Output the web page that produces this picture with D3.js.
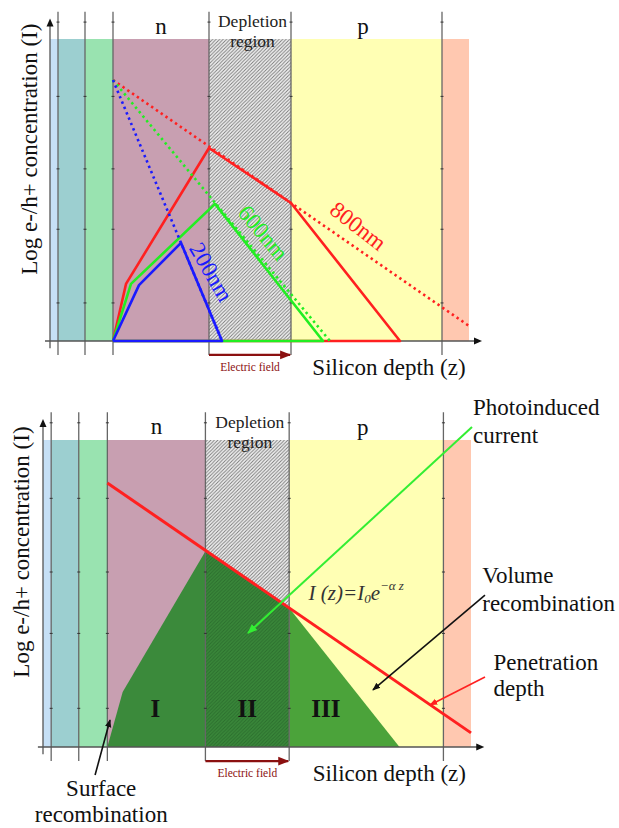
<!DOCTYPE html>
<html>
<head>
<meta charset="utf-8">
<script src="https://cdn.jsdelivr.net/npm/d3@7"></script>
<style>
  body { margin: 0; background: #fff; }
  svg text { font-family: "Liberation Serif", "DejaVu Serif", serif; }
</style>
</head>
<body>
<svg id="chart" width="619" height="828"></svg>
<script>
// layers along silicon depth (arbitrary depth units, 0 = surface of n layer)
const layers = [
  {name: "air",       z0: -63, z1: -55, fill: "#c6e0f6"},
  {name: "coating",   z0: -55, z1: -28, fill: "#9ccfd0"},
  {name: "window",    z0: -28, z1: 0,   fill: "#99e3b0"},
  {name: "n",         z0: 0,   z1: 96,  fill: "#c89fb1"},
  {name: "depletion", z0: 96,  z1: 178, fill: "url(#hatch)"},
  {name: "p",         z0: 178, z1: 329, fill: "#ffffb4"},
  {name: "substrate", z0: 329, z1: 356, fill: "#ffc8b0"}
];
const boundaries = [-55, -28, 0, 96, 178, 329];
const tickLevels = [12.6, 37, 57, 81, 105.6];
const bandTop = 100;

// top panel: log concentration profiles per wavelength
const profiles = [
  {label: "800nm", color: "#ff2020",
   dotted: [[0, 86.4], [356, 5]],
   solid: [[0, 0], [13, 18.9], [96, 63.9], [178, 45.7], [287, 0], [0, 0]],
   text: [245, 38, 38]},
  {label: "600nm", color: "#22ee22",
   dotted: [[0, 86.4], [217, 0]],
   solid: [[0, 0], [18, 18.9], [102, 45.4], [210, 0], [0, 0]],
   text: [150, 35.8, 50]},
  {label: "200nm", color: "#1a1aff",
   dotted: [[0, 86.4], [109, 0]],
   solid: [[0, 0], [26, 18.5], [68, 32.5], [109, 0], [0, 0]],
   text: [98, 22.8, 60]}
];

// bottom panel
const penetration = [[0, 86], [356, 4.6]];
const currentRegions = [
  {name: "I",   fill: "#3b8a3b", pts: [[0, 0], [15, 17.9], [96, 63.8], [96, 0]]},
  {name: "II",  fill: "url(#hatchGreen)", pts: [[96, 0], [96, 63.8], [178, 45.3], [178, 0]]},
  {name: "III", fill: "#4ba33a", pts: [[178, 0], [178, 45.3], [286, 0]]}
];
const regionLabels = [["I", 47], ["II", 137], ["III", 214]];
const arrows = [
  {color: "#33ee33", from: [357, 104.2], to: [137.7, 37.1]},
  {color: "#111",    from: [369.7, 49.5], to: [260, 18.6]},
  {color: "#ff2020", from: [369.7, 22.8], to: [315.9, 13.7]},
  {color: "#111",    from: [-12, -9.1], to: [2.6, 8.8]}
];
const notes = [
  {lines: ["Photoinduced", "current"], z: 358, I: [110.7, 101.6], anchor: "start"},
  {lines: ["Volume", "recombination"], z: 367, I: [55.8, 46.7], anchor: "start"},
  {lines: ["Penetration", "depth"], z: 378, I: [27.4, 19], anchor: "start"},
  {lines: ["Surface", "recombination"], z: -6, I: [-13.4, -22.1], anchor: "middle"}
];

const svg = d3.select("#chart");
const defs = svg.append("defs");
function hatch(id, bg, fg, w) {
  const p = defs.append("pattern").attr("id", id)
    .attr("patternUnits", "userSpaceOnUse").attr("width", 3.5).attr("height", 3.5);
  p.append("rect").attr("width", 3.5).attr("height", 3.5).attr("fill", bg);
  p.append("path").attr("d", "M-1,1 l2,-2 M0,3.5 l3.5,-3.5 M2.5,4.5 l2,-2")
    .attr("stroke", fg).attr("stroke-width", w);
}
hatch("hatch", "#f2f2f2", "#777", 0.9);
hatch("hatchGreen", "#3a883a", "#2b6e2d", 0.9);

["red", "black", "green", "field"].forEach(k => {
  const c = {red: "#ff2020", black: "#111", green: "#33ee33", field: "#8b1010"}[k];
  defs.append("marker").attr("id", "arrow-" + k)
    .attr("viewBox", "0 0 10 10").attr("refX", 9).attr("refY", 5)
    .attr("markerWidth", 5).attr("markerHeight", 5).attr("orient", "auto")
    .append("path").attr("d", "M0,1 L10,5 L0,9 z").attr("fill", c);
});

function panel(xRange, yRange, bottom) {
  const x = d3.scaleLinear().domain([-63, 356]).range(xRange);
  const y = d3.scaleLinear().domain([0, 100]).range(yRange);
  const g = svg.append("g");
  const line = d3.line().x(d => x(d[0])).y(d => y(d[1]));

  g.selectAll(".layer").data(layers).enter().append("rect")
    .attr("x", d => x(d.z0)).attr("width", d => x(d.z1) - x(d.z0))
    .attr("y", y(bandTop)).attr("height", y(0) - y(bandTop))
    .attr("fill", d => d.fill);

  if (bottom) {
    g.selectAll(".region").data(currentRegions).enter().append("path")
      .attr("d", d => line(d.pts) + "Z").attr("fill", d => d.fill);
  }

  // layer boundaries with small ticks
  g.selectAll(".bound").data(boundaries).enter().append("line")
    .attr("x1", d => x(d)).attr("x2", d => x(d))
    .attr("y1", y(109)).attr("y2", y(-4.6))
    .attr("stroke", "#666").attr("stroke-width", 1.3);
  boundaries.forEach(b => {
    g.selectAll(null).data(tickLevels).enter().append("line")
      .attr("x1", x(b) - 1.5).attr("x2", x(b) + 1.5)
      .attr("y1", d => y(d)).attr("y2", d => y(d))
      .attr("stroke", "#333").attr("stroke-width", 1);
  });

  // axes
  g.append("line").attr("x1", x(-63)).attr("x2", x(-63))
    .attr("y1", y(-2.4)).attr("y2", y(105.5))
    .attr("stroke", "#555").attr("stroke-width", 1.3);
  g.append("path")
    .attr("d", `M${x(-63)},${y(106.8)} l-3.5,8 l7,0 z`).attr("fill", "#111");
  g.append("line").attr("x1", x(-68)).attr("x2", x(362))
    .attr("y1", y(0)).attr("y2", y(0))
    .attr("stroke", "#555").attr("stroke-width", 1.3);
  g.append("path")
    .attr("d", `M${x(369)},${y(0)} l-8,-3.5 l0,7 z`).attr("fill", "#111");

  if (!bottom) {
    profiles.forEach(p => {
      g.append("path").attr("d", line(p.dotted)).attr("fill", "none")
        .attr("stroke", p.color).attr("stroke-width", 2.6)
        .attr("stroke-dasharray", "2.4,3.4");
      g.append("path").attr("d", line(p.solid)).attr("fill", "none")
        .attr("stroke", p.color).attr("stroke-width", 2.6)
        .attr("stroke-linejoin", "round");
    });
    profiles.forEach(p => {
      g.append("text").text(p.label)
        .attr("transform", `translate(${x(p.text[0])},${y(p.text[1])}) rotate(${p.text[2]})`)
        .attr("text-anchor", "middle").attr("dominant-baseline", "central")
        .attr("font-size", 23).attr("fill", p.color);
    });
  } else {
    g.append("path").attr("d", line(penetration)).attr("fill", "none")
      .attr("stroke", "#ff2020").attr("stroke-width", 3);
    g.selectAll(".rl").data(regionLabels).enter().append("text")
      .text(d => d[0]).attr("x", d => x(d[1])).attr("y", y(12.4))
      .attr("text-anchor", "middle").attr("dominant-baseline", "central")
      .attr("font-size", 25).attr("font-weight", "bold").attr("fill", "#111");
    g.append("text").attr("x", x(197)).attr("y", y(50.2))
      .attr("dominant-baseline", "central")
      .attr("font-size", 21).attr("font-style", "italic").attr("fill", "#333")
      .html('I (z)=I<tspan font-size="13" dy="5">0</tspan><tspan dy="-5">e</tspan><tspan font-size="13" dy="-8">−α z</tspan>');
    arrows.forEach(a => {
      const m = {"#33ee33": "green", "#111": "black", "#ff2020": "red"}[a.color];
      g.append("path").attr("d", line([a.from, a.to]))
        .attr("stroke", a.color).attr("stroke-width", a.color === "#33ee33" ? 2 : 1.6)
        .attr("marker-end", `url(#arrow-${m})`);
    });
    notes.forEach(n => {
      n.lines.forEach((t, i) => {
        g.append("text").text(t).attr("x", x(n.z)).attr("y", y(n.I[i]))
          .attr("text-anchor", n.anchor).attr("dominant-baseline", "central")
          .attr("font-size", 23).attr("fill", "#111");
      });
    });
  }

  // labels
  const label = (t, z, I, size, color) => g.append("text").text(t)
    .attr("x", x(z)).attr("y", y(I)).attr("text-anchor", "middle")
    .attr("dominant-baseline", "central").attr("font-size", size).attr("fill", color || "#111");
  label("n", 48, 104.3, 23);
  label("p", 250, 104, 23);
  label("Depletion", 139.5, 106, 17.5, "#222");
  label("region", 139.5, 99.5, 17.5, "#222");
  label("Silicon depth (z)", 276, -8.7, 23);
  label("Electric field", 137, -8.6, 11.5, "#8b1010");
  g.append("line").attr("x1", x(96)).attr("x2", x(178) - 1)
    .attr("y1", y(-4.6)).attr("y2", y(-4.6))
    .attr("stroke", "#8b1010").attr("stroke-width", 2.2)
    .attr("marker-end", "url(#arrow-field)");
  g.append("text").text("Log e-/h+ concentration (I)")
    .attr("transform", `translate(${x(-84)},${y(63.5)}) rotate(-90)`)
    .attr("text-anchor", "middle").attr("dominant-baseline", "central")
    .attr("font-size", 23).attr("fill", "#111");
}

panel([50, 469], [341, 39], false);
panel([43, 471], [747, 440], true);
</script>
</body>
</html>
